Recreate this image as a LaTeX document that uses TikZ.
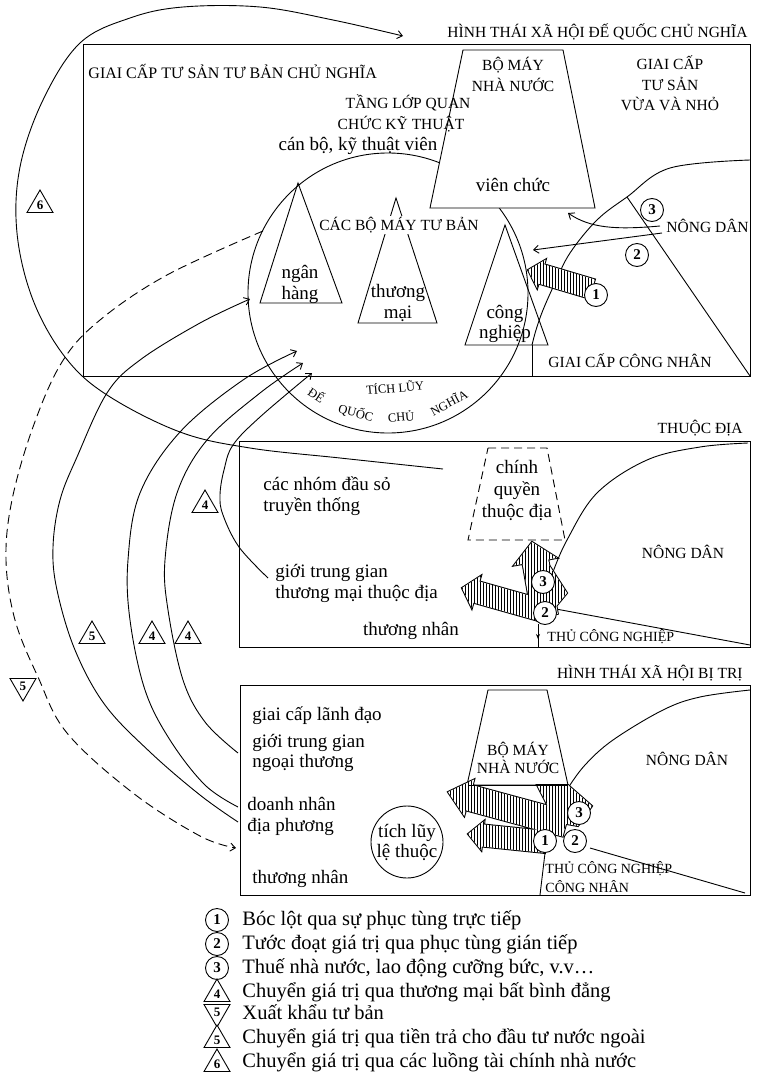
\documentclass[tikz,border=0pt]{standalone}
\usepackage{fontspec}
\setmainfont{Liberation Serif}
\usetikzlibrary{shapes.geometric,patterns,calc,arrows.meta}
\newcommand\fontLow{\fontsize{19}{21}\selectfont}
\newcommand\fontCap{\fontsize{15.5}{19}\selectfont}
\newcommand\fontCapS{\fontsize{14}{17}\selectfont}
\newcommand\fontLeg{\fontsize{20.5}{22}\selectfont}
% tail, tip, body half width, head half width, head length
\newcommand\fatarrowpath[5]{($(#1)!#3!90:(#2)$) -- ($($(#2)!#5!(#1)$)!#3!90:(#2)$) -- ($($(#2)!#5!(#1)$)!#4!90:(#2)$) -- (#2) -- ($($(#2)!#5!(#1)$)!#4!-90:(#2)$) -- ($($(#2)!#5!(#1)$)!#3!-90:(#2)$) -- ($(#1)!#3!-90:(#2)$) -- cycle}
\begin{document}
\begin{tikzpicture}[x=1pt,y=-1pt,line width=0.9pt,>={Straight Barb[length=5pt,width=8pt]},
  lo/.style={font=\fontLow, inner sep=0pt, anchor=base},
  lw/.style={font=\fontLow, inner sep=0pt, anchor=base west},
  uc/.style={font=\fontCap, inner sep=0pt, anchor=base},
  uw/.style={font=\fontCap, inner sep=0pt, anchor=base west},
  us/.style={font=\fontCapS, inner sep=0pt, anchor=base west},
  arc/.style={font=\fontsize{12.5}{13}\selectfont, inner sep=0pt},
  leg/.style={font=\fontLeg, inner sep=0pt, anchor=base west},
  num/.style={circle, draw, fill=white, minimum size=23pt, inner sep=0pt, font=\bfseries\fontsize{15}{15}\selectfont},
  tri/.style={regular polygon, regular polygon sides=3, draw, fill=white, minimum size=30pt, inner sep=0pt, font=\bfseries\fontsize{13}{13}\selectfont},
  itri/.style={tri, shape border rotate=180},
  flow/.style={->},
  dflow/.style={->, dash pattern=on 9pt off 5pt},
  outl/.style={line width=2pt},
  stripefill/.style={fill=white, postaction={pattern=vertical lines}}
]
\fill[white] (0,0) rectangle (756,1084);
\useasboundingbox (0,0) rectangle (756,1084);

%================ TOP BOX =================
\draw (83,44) rectangle (750,376);
\node[uc, anchor=base east] (title1) at (748,37) {HÌNH THÁI XÃ HỘI ĐẾ QUỐC CHỦ NGHĨA};
\node[uw, font=\fontsize{16}{19}\selectfont] (bourg) at (88,78) {GIAI CẤP TƯ SẢN TƯ BẢN CHỦ NGHĨA};

% big accumulation circle
\draw (388,293) circle[radius=140];
% peasant arc, diagonal, separator
\draw plot[smooth, tension=0.6] coordinates {(750,160) (670,168) (627,197) (597,220) (570,253) (555,283) (543,310) (536,330) (532,345)};
\draw (532,345) -- (532,376);
\draw (627,197) -- (750,376);

% triangles
\draw (298,183) -- (342,303) -- (260,303) -- cycle;
\draw (396,198) -- (437,323) -- (358,323) -- cycle;
\draw (505,225) -- (548,345) -- (465,345) -- cycle;
% state apparatus trapezoid
\draw[fill=white] (463,50) -- (563,50) -- (595,208) -- (430,208) -- cycle;

\node[uc] (bm1) at (513,70) {BỘ MÁY};
\node[uc] (bm2) at (513,91) {NHÀ NƯỚC};
\node[uc] (vv1) at (670,69) {GIAI CẤP};
\node[uc] (vv2) at (670,90) {TƯ SẢN};
\node[uc] (vv3) at (670,110) {VỪA VÀ NHỎ};
\node[uc] (tl1) at (408,108) {TẦNG LỚP QUAN};
\node[uc] (tl2) at (401,129) {CHỨC KỸ THUẬT};
\node[lo] (cb) at (358,150) {cán bộ, kỹ thuật viên};
\node[lo] (vc) at (513,191) {viên chức};
\node[uc, fill=white, inner sep=1pt] (cbm) at (399,230) {CÁC BỘ MÁY TƯ BẢN};
\node[lo] (nh1) at (300,278) {ngân};
\node[lo] (nh2) at (300,299) {hàng};
\node[lo] (tm1) at (398,297) {thương};
\node[lo] (tm2) at (398,318) {mại};
\node[lo] (cn1) at (505,318) {công};
\node[lo] (cn2) at (505,338) {nghiệp};
\node[uw] (nd1) at (666,232) {NÔNG DÂN};
\node[uw] (gccn) at (548,367) {GIAI CẤP CÔNG NHÂN};

% curved label inside circle
\node[arc, rotate=5] (tich) at (395,387) {TÍCH LŨY};
\node[arc, rotate=-33] (w1) at ($(388,293)+(125:124)$) {ĐẾ};
\node[arc, rotate=-15] (w2) at ($(388,293)+(105:124)$) {QUỐC};
\node[arc, rotate=5] (w3) at ($(388,293)+(84:124)$) {CHỦ};
\node[arc, rotate=28] (w4) at ($(388,293)+(61:125)$) {NGHĨA};

% flows from peasants
\draw[outl] \fatarrowpath{592,289}{528,270}{10pt}{15pt}{14pt};
\fill[stripefill] \fatarrowpath{592,289}{528,270}{10pt}{15pt}{14pt};
\coordinate (p3s) at (660,226);
\coordinate (p3e) at (568,213);
\coordinate (p2s) at (662,233);
\coordinate (p2e) at (533,250);
\draw[flow] (p3s) .. controls (615,230) and (590,228) .. (p3e);
\draw[flow] (p2s) -- (p2e);
\node[num] (c3a) at (652,210) {3};
\node[num] (c2a) at (637,255) {2};
\node[num] (c1a) at (596,295) {1};

%================ COLONY BOX =================
\draw (239,441) rectangle (750,647);
\node[uc, anchor=base east] (title2) at (743,433) {THUỘC ĐỊA};
\draw[dash pattern=on 8pt off 5pt] (488,448) -- (547,448) -- (565,540) -- (468,540) -- cycle;
\node[lo] (cq1) at (517,473) {chính};
\node[lo] (cq2) at (517,495) {quyền};
\node[lo] (cq3) at (517,517) {thuộc địa};
\node[lw] (dn1) at (263,490) {các nhóm đầu sỏ};
\node[lw] (dn2) at (263,511) {truyền thống};
\node[uc] (nd2) at (683,558) {NÔNG DÂN};
\node[lw] (gt1) at (275,577) {giới trung gian};
\node[lw] (gt2) at (275,598) {thương mại thuộc địa};
\node[lo] (tn1) at (411,635) {thương nhân};
\node[us] (tcn1) at (547,641) {THỦ CÔNG NGHIỆP};
\draw plot[smooth, tension=0.6] coordinates {(748,443) (700,447) (647,460) (597,493) (567,540) (553,572)};
\draw (556,609) -- (750,645);
\draw (538,624) -- (538,647);
\draw[-{Stealth[length=5pt,width=4pt]}] (538,624) -- (538,639);
% striped arrows (union)
\draw[outl] (549,565) -- (567,593) -- (553,610) -- (542,598) -- cycle
  \fatarrowpath{545,616}{532,542}{13pt}{22pt}{20pt}
  \fatarrowpath{540,610}{462,588}{11pt}{17pt}{15pt};
\fill[white] (549,565) -- (567,593) -- (553,610) -- (542,598) -- cycle
  \fatarrowpath{545,616}{532,542}{13pt}{22pt}{20pt}
  \fatarrowpath{540,610}{462,588}{11pt}{17pt}{15pt};
\fill[pattern=vertical lines] (549,565) -- (567,593) -- (553,610) -- (542,598) -- cycle
  \fatarrowpath{545,616}{532,542}{13pt}{22pt}{20pt}
  \fatarrowpath{540,610}{462,588}{11pt}{17pt}{15pt};
\node[num] (c3b) at (543,582) {3};
\node[num] (c2b) at (545,613) {2};

%================ DOMINATED BOX =================
\draw (240,685) rectangle (750,895);
\node[uc, anchor=base east] (title3) at (743,678) {HÌNH THÁI XÃ HỘI BỊ TRỊ};
\draw[fill=white] (488,690) -- (547,690) -- (568,785) -- (467,785) -- cycle;
\node[uc] (bm3) at (518,755) {BỘ MÁY};
\node[uc] (bm4) at (518,773) {NHÀ NƯỚC};
\node[lw] (ld) at (252,720) {giai cấp lãnh đạo};
\node[lw] (ng1) at (252,747) {giới trung gian};
\node[lw] (ng2) at (252,767) {ngoại thương};
\node[lw] (dp1) at (247,810) {doanh nhân};
\node[lw] (dp2) at (247,831) {địa phương};
\node[lw] (tn2) at (252,883) {thương nhân};
\draw (407,842) circle[radius=36];
\node[lo] (lt1) at (407,837) {tích lũy};
\node[lo] (lt2) at (407,857) {lệ thuộc};
\node[uc] (nd3) at (687,765) {NÔNG DÂN};
\node[us] (tcn2) at (545,873) {THỦ CÔNG NGHIỆP};
\node[us] (tcn3) at (545,892) {CÔNG NHÂN};
\draw plot[smooth, tension=0.6] coordinates {(750,690) (700,697) (663,710) (613,740) (585,765) (568,788)};
\draw (590,848) -- (745,893);
\draw (545,853) -- (540,895);
\draw[outl] (537,785) -- (568,785) -- (592,806) -- (578,826) -- (556,822) -- cycle
  \fatarrowpath{566,824}{448,792}{13pt}{19pt}{22pt}
  \fatarrowpath{546,842}{468,834}{11pt}{15pt}{15pt};
\fill[white] (537,785) -- (568,785) -- (592,806) -- (578,826) -- (556,822) -- cycle
  \fatarrowpath{566,824}{448,792}{13pt}{19pt}{22pt}
  \fatarrowpath{546,842}{468,834}{11pt}{15pt}{15pt};
\fill[pattern=vertical lines] (537,785) -- (568,785) -- (592,806) -- (578,826) -- (556,822) -- cycle
  \fatarrowpath{566,824}{448,792}{13pt}{19pt}{22pt}
  \fatarrowpath{546,842}{468,834}{11pt}{15pt}{15pt};
\draw[line width=0.9pt] (468,785) -- (567,785);
\node[num] (c3c) at (579,813) {3};
\node[num] (c1c) at (545,841) {1};
\node[num] (c2c) at (575,841) {2};

%================ FLOW CURVES =================
% 6: state financial flows (loop)
\draw[flow] plot[smooth, tension=0.6] coordinates {(443,469) (340,458) (250,448) (180,432) (107,395) (65,357) (33,300) (17,233) (20,167) (43,100) (80,43) (130,18) (183,7) (260,7) (333,20) (403,36)};
% 5: payments for foreign investment
\draw[flow] plot[smooth, tension=0.6] coordinates {(238,822) (200,795) (150,752) (105,705) (75,650) (57,590) (53,547) (60,500) (77,457) (107,393) (140,360) (200,323) (250,299)};
% 4: unequal trade
\draw[flow] plot[smooth, tension=0.6] coordinates {(238,807) (205,785) (170,740) (145,690) (130,620) (128,560) (140,493) (180,432) (243,380) (297,351)};
\draw[flow] plot[smooth, tension=0.6] coordinates {(238,753) (205,722) (183,680) (168,610) (165,560) (177,493) (207,440) (260,393) (303,363)};
\draw[flow] plot[smooth, tension=0.6] coordinates {(268,578) (239,547) (223,515) (220,495) (224,470) (233,445) (260,417) (312,373)};
% export of capital (dashed)
\draw[dflow] plot[smooth, tension=0.6] coordinates {(263,231) (167,275) (100,320) (62,362) (33,427) (12,500) (6,560) (15,620) (38,677) (67,733) (133,793) (200,836) (236,848)};

% flow labels
\node[tri] (k6) at (40,205) {6};
\node[tri] (k4a) at (205,505) {4};
\node[tri] (k5a) at (92,636) {5};
\node[tri] (k4b) at (152,636) {4};
\node[tri] (k4c) at (188,636) {4};
\node[itri] (k5b) at (23,686) {5};

%================ LEGEND =================
\node[num] (g1) at (217,920) {1};
\node[num] (g2) at (217,944) {2};
\node[num] (g3) at (217,968) {3};
\node[tri] (g4) at (217,994) {4};
\node[itri] (g5) at (217,1012) {5};
\node[tri] (g6) at (217,1040) {5};
\node[tri] (g7) at (217,1064) {6};
\node[leg] (e1) at (242,925) {Bóc lột qua sự phục tùng trực tiếp};
\node[leg] (e2) at (242,949) {Tước đoạt giá trị qua phục tùng gián tiếp};
\node[leg] (e3) at (242,973) {Thuế nhà nước, lao động cưỡng bức, v.v…};
\node[leg] (e4) at (242,997) {Chuyển giá trị qua thương mại bất bình đẳng};
\node[leg] (e5) at (242,1019) {Xuất khẩu tư bản};
\node[leg] (e6) at (242,1043) {Chuyển giá trị qua tiền trả cho đầu tư nước ngoài};
\node[leg] (e7) at (242,1067) {Chuyển giá trị qua các luồng tài chính nhà nước};
\end{tikzpicture}
\end{document}
